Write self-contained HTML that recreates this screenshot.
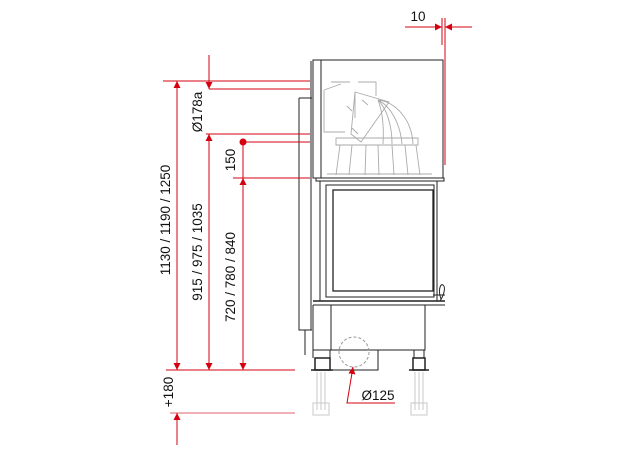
<!DOCTYPE html>
<html><head><style>html,body{margin:0;padding:0;background:#fff}svg{display:block}</style></head>
<body>
<svg width="624" height="460" viewBox="0 0 624 460" xmlns="http://www.w3.org/2000/svg" font-family="Liberation Sans, Arial, sans-serif">
<defs>
<marker id="a" viewBox="0 0 10 10" refX="10" refY="5" markerWidth="7" markerHeight="10" orient="auto-start-reverse" markerUnits="userSpaceOnUse"><path d="M0,0 L10,5 L0,10 z" fill="#d40010"/></marker>
</defs>
<!-- ghost legs -->
<g stroke="#c8c8c8" fill="none" stroke-width="1">
<line x1="317" y1="372" x2="317" y2="410"/><line x1="321" y1="372" x2="321" y2="410"/><line x1="325" y1="372" x2="325" y2="410"/>
<rect x="313" y="403" width="16" height="12"/>
<line x1="415" y1="372" x2="415" y2="410"/><line x1="419" y1="372" x2="419" y2="410"/><line x1="423" y1="372" x2="423" y2="410"/>
<rect x="411" y="403" width="16" height="12"/>
</g>
<!-- fireplace body -->
<g stroke="#222" fill="none" stroke-width="1">
<rect x="313" y="60" width="130" height="118"/>
<line x1="321" y1="60" x2="321" y2="178"/>
<line x1="311" y1="61" x2="311" y2="330"/>
<path d="M299,98 H312 M299,98 V330 H312"/>
<line x1="305" y1="330" x2="305" y2="355"/>
<rect x="316" y="178" width="128" height="3"/>
<rect x="320" y="181" width="117" height="120"/>
<rect x="326" y="185" width="108" height="112"/>
<rect x="333" y="190" width="100" height="101" stroke-width="1.3"/>
<line x1="313" y1="301" x2="445" y2="301" stroke-width="1.5"/>
<line x1="313" y1="305" x2="445" y2="305"/>
<path d="M433,295 h12 M440,301 c4,-6 6,-14 3,-16 c-3,-2 -5,6 -2,14"/>
<rect x="331" y="305" width="94" height="45"/>
<rect x="330" y="350" width="48" height="20"/>
<line x1="313" y1="350" x2="330" y2="350"/>
<line x1="313" y1="305" x2="313" y2="358"/>
<rect x="315" y="358" width="15" height="12" stroke-width="1.5"/>
<line x1="311" y1="370" x2="333" y2="370" stroke-width="1.5"/>
<rect x="414" y="350" width="10" height="8"/>
<rect x="413" y="358" width="12" height="12" stroke-width="1.5"/>
<line x1="409" y1="370" x2="429" y2="370" stroke-width="1.5"/>
</g>
<circle cx="354" cy="352" r="15" fill="none" stroke="#999" stroke-dasharray="3,2"/>
<!-- dome ghost -->
<g stroke="#aaa" fill="none" stroke-width="0.9">
<path d="M331,82 H350 M358,82 H376 V96 M324,90 V132 H345 M324,90 l17,-6 M355,92 V118"/>
<path d="M355,92 l34,10 -28,40 -10,-8 z"/>
<path d="M378,100 c18,2 34,20 35,44 M378,100 c12,6 22,22 24,44 M378,100 c8,8 14,24 14,44 M378,100 c4,10 6,26 5,44"/>
<path d="M336,138 H418 V145 H336 z M340,145 l-4,30 M416,145 l4,30 M352,145 l-3,30 M366,145 l-1,30 M378,145 l1,30 M392,145 l2,30 M405,145 l3,30"/>
<path d="M327,174 H432 M347,106 l5,5 M352,128 l6,6 M362,100 l6,5"/>
</g>
<!-- red dims -->
<g stroke="#d40010" stroke-width="1" fill="none">
<line x1="442" y1="18" x2="442" y2="45"/>
<line x1="445" y1="18" x2="445" y2="165"/>
<line x1="405" y1="27" x2="442" y2="27" marker-end="url(#a)"/>
<line x1="472" y1="27" x2="445" y2="27" marker-end="url(#a)"/>
<line x1="163" y1="81" x2="310" y2="81"/>
<line x1="209" y1="89" x2="310" y2="89"/>
<line x1="206" y1="134" x2="310" y2="134"/>
<line x1="243" y1="142" x2="310" y2="142"/>
<line x1="233" y1="178" x2="310" y2="178"/>
<line x1="166" y1="370" x2="295" y2="370"/>
<line x1="170" y1="413" x2="295" y2="413" stroke="#e06070"/>
<line x1="177" y1="370" x2="177" y2="81" marker-end="url(#a)"/>
<line x1="177" y1="81" x2="177" y2="370" marker-end="url(#a)"/>
<line x1="177" y1="445" x2="177" y2="413" marker-end="url(#a)"/>
<line x1="209" y1="55" x2="209" y2="89" marker-end="url(#a)"/>
<line x1="209" y1="370" x2="209" y2="134" marker-end="url(#a)"/>
<line x1="209" y1="134" x2="209" y2="370" marker-end="url(#a)"/>
<line x1="243" y1="142" x2="243" y2="370" marker-end="url(#a)"/>
<line x1="243" y1="370" x2="243" y2="178" marker-end="url(#a)"/>
<path d="M395,403 H347 L353,367" marker-end="url(#a)"/>
</g>
<circle cx="243" cy="142" r="3.5" fill="#d40010"/>
<g font-size="13.5" fill="#111" text-anchor="middle">
<text x="418" y="21">10</text>
<text x="378" y="400">Ø125</text>
<text transform="translate(170,220) rotate(-90)">1130 / 1190 / 1250</text>
<text transform="translate(202,252) rotate(-90)">915 / 975 / 1035</text>
<text transform="translate(235,277) rotate(-90)">720 / 780 / 840</text>
<text transform="translate(235,160) rotate(-90)">150</text>
<text transform="translate(202,112) rotate(-90)">Ø178a</text>
<text transform="translate(173,392) rotate(-90)">+180</text>
</g>
</svg>
</body></html>
